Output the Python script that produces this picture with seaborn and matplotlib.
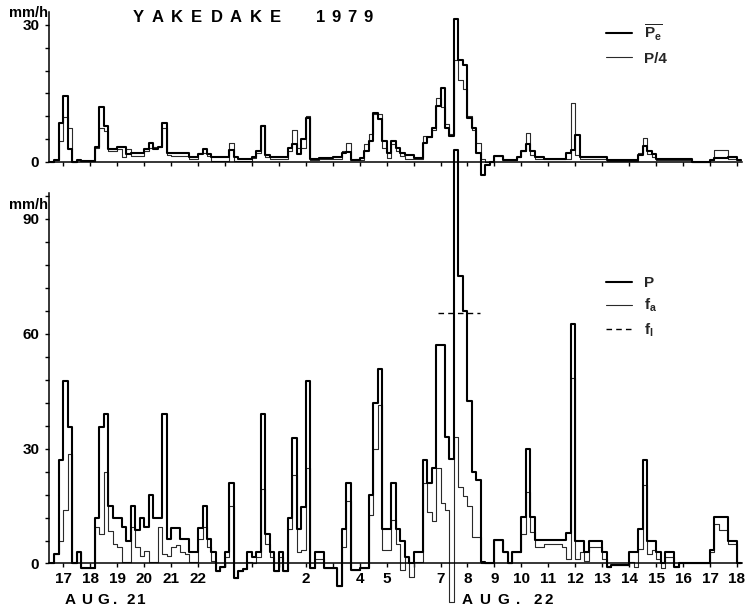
import numpy as np
import pandas as pd
import matplotlib
matplotlib.use("Agg")
import matplotlib.pyplot as plt
from matplotlib.lines import Line2D
import seaborn as sns

# Time axis: hours counted from 00:00, Aug. 21 1979; 10-minute steps
STEP_START = 16.5
STEP_HOURS = 1 / 6

# Effective rainfall (upper panel, thick)
pe = [
    0, 0.3, 8.4, 14.5, 2.8, 0,
    0.3, 0.2, 0.2, 0.2, 3.3, 11.9,
    7.9, 2.8, 2.8, 3.3, 3.3, 1.7,
    2, 2, 2, 2.8, 4, 2.8,
    3.3, 8.4, 2, 2, 2, 2,
    2, 1, 1, 1.7, 2.8, 1.7,
    1, 1, 1, 1, 2.6, 1,
    0.6, 0.6, 0.6, 1, 2.4, 7.9,
    1.5, 1, 1, 1, 1, 3,
    3.8, 1.6, 4.9, 9.6, 0.5, 0.5,
    0.8, 0.8, 0.8, 1, 1, 2,
    2.2, 0.3, 0.3, 0.8, 2.3, 4.5,
    10.7, 9.3, 4.5, 2, 4.5, 3.1,
    2, 1.5, 1.5, 0.9, 0.9, 4.2,
    5.4, 7.4, 12.2, 16.2, 7.4, 5.6,
    31.4, 22.4, 21.3, 9.6, 7.4, 2,
    -2.9, -0.7, 0, 1.2, 1.2, 0.3,
    0.3, 0.3, 1, 2.3, 3.8, 2.3,
    1.1, 1.1, 0.7, 0.7, 0.7, 0.7,
    0.7, 1.8, 2.5, 5.8, 1.1, 1.1,
    1.1, 1.1, 1.1, 1.1, 0.4, 0.4,
    0.4, 0.4, 0.4, 0.3, 0.3, 1.5,
    3.5, 2.3, 1.6, 0.6, 0.6, 0.6,
    0.6, 0.6, 0.6, 0.6, 0.6, 0,
    0, 0, 0, 0.4, 0.9, 0.9,
    0.9, 1.1, 1.1, 0.4,
]

# Rainfall divided by four (upper panel, thin)
p_quarter = [
    0, 0.3, 4.6, 9.7, 7.3, 0,
    0.3, 0.2, 0.2, 0.2, 3, 7.5,
    6.8, 2.4, 2.4, 2.8, 1, 2.8,
    1.3, 1.3, 1.3, 2.4, 3.1, 3.3,
    3.3, 7.5, 1.5, 1.3, 1.3, 1.3,
    1.3, 0.6, 0.6, 2, 2, 1.3,
    0.2, 0.2, 0.2, 0.2, 4.2, 0.2,
    0.2, 0.2, 0.2, 0.8, 2, 8,
    1, 0.6, 0.6, 0.6, 0.6, 2.4,
    6.9, 3.1, 3.1, 10, 0.3, 0.3,
    0.6, 0.6, 0.6, 0.7, 0.7, 2.3,
    4.2, 0.3, 0.5, 0.3, 3.8, 6,
    10.4, 10.4, 3.1, 0.9, 3.8, 2.3,
    1.2, 0.5, 0.5, 0.5, 0.5, 5.6,
    5.4, 7, 14, 12, 8.2, 6,
    22.4, 18, 16, 10, 7, 4,
    0.5, 0, 0, 1.2, 1.2, 0.3,
    0.3, 0.3, 1, 2.3, 6.4, 1.5,
    0.5, 0.5, 0.5, 0.5, 0.5, 0.5,
    0.5, 0.5, 12.8, 1.5, 0.7, 0.7,
    0.7, 0.7, 0.7, 0.7, 0.2, 0.2,
    0.2, 0.2, 0.2, 0.2, 0.2, 1.8,
    5.3, 1.6, 1.1, 0.4, 0.4, 0.4,
    0.4, 0.4, 0.4, 0.4, 0.4, 0,
    0, 0, 0, 0.4, 2.6, 2.6,
    2.6, 0.7, 0.7, 0.3,
]

# Rainfall intensity P (lower panel, thick)
p = [
    0, 2.6, 27, 47.6, 35.6, 0,
    2.9, -1.2, -1.2, -1.2, 12, 35.6,
    39, 15, 12, 12, 9.4, 5.9,
    15, 8.7, 12, 9.4, 18, 12,
    12, 39, 6.3, 9.2, 9.2, 6.3,
    6.3, 2.9, 2.9, 9.2, 15, 6.3,
    2.9, -1.9, -1, 2.9, 21, -3.7,
    -1.9, -1.5, 2.9, 1.6, 2.9, 39,
    7.6, 2.9, -1.9, 2.9, -1.9, 12,
    32.8, 9, 14.8, 47.7, -1.3, 2.9,
    2.9, -1.3, -1.3, -1.3, -6, 9,
    20.9, -1.7, -1.7, -1.3, -1.3, 18,
    42, 50.9, 9.1, 9.1, 20.9, 9.1,
    5.8, 1.7, 0, 3, 3, 27,
    21, 25, 57, 57, 33, 27.4,
    108, 75, 66, 42.5, 24, 21.7,
    0.3, 0, 0, 6.1, 6.1, 2.9,
    0, 3, 3, 12.2, 30, 12.2,
    6.1, 6.1, 6.1, 6.1, 6.1, 6.1,
    6.1, 8, 62.4, 5.9, 5.9, 3,
    5.9, 5.9, 5.9, 3, -0.9, -0.3,
    -0.3, -0.3, -0.3, 3, 3, 8.9,
    27, 5.9, 5.9, 3, 0, 3,
    3, -0.9, 0, 0, 0, 0,
    0, 0, 0, 3.5, 12.2, 12.2,
    12.2, 5.9, 5.9, 0,
]

# Actual infiltration f_a (lower panel, thin)
fa = [
    0, 2.6, 6, 14, 28.5, 0,
    2.9, -1.2, -1.2, -1.2, 9.6, 7.6,
    24, 8.5, 5.2, 4.2, 0.5, 0.5,
    9.4, 4.2, 2, 3.3, 0.5, 0.5,
    9.4, 2.6, 2, 4.2, 4.9, 2.9,
    2.6, 0.3, 0.3, 6.3, 9.4, 4.2,
    0.7, -1.9, -1, 1.6, 15, -3.7,
    -1.9, -1.5, 0.3, 0, 1.6, 19.4,
    5, 1.6, -1.9, 1.6, -1.9, 9.1,
    23.2, 3, 3.5, 25, -1.3, 1.3,
    1.3, -1.3, -1.3, -1.3, -6, 4.3,
    16.3, -1.7, -1.7, -1.3, -1.3, 12.6,
    30, 41.5, 3.5, 3.5, 11.3, 5.2,
    -1.7, 1.7, -3.5, 0.5, 0.5, 20.9,
    13.5, 11, 25, 15.7, 14, -10,
    33, 20, 17.6, 15, 7, 7,
    0, 0, 0, 6.1, 6.1, 2.9,
    0, 3, 3, 7.8, 18.7, 8.3,
    4.3, 4.3, 5.2, 5.2, 5.2, 5.2,
    4.3, 1.3, 48.3, 1.3, 3, 0.7,
    4.3, 4.3, 4.3, 1.3, -0.9, -0.3,
    -0.3, -0.3, -0.3, 0.5, -0.9, 3.9,
    20.4, 2.6, 3.5, 1.3, -1.3, 1.7,
    1.7, -0.9, 0, 0, 0, 0,
    0, 0, 0, 3, 10.4, 8.7,
    8.7, 5, 5, 0,
]

# Initial infiltration capacity f_I and the period it applies to
F1_LEVEL = 65.4
F1_START, F1_END = 30.9, 32.45

HOUR_TICKS = list(range(17, 43))
HOUR_LABELS = ["17", "18", "19", "20", "21", "22", "", "", "", "2", "", "4", "5", "",
               "7", "8", "9", "10", "11", "12", "13", "14", "15", "16", "17", "18"]

sns.set_style("ticks")
FONT = ["Liberation Sans", "DejaVu Sans"]
plt.rcParams["font.family"] = FONT
plt.rcParams["font.weight"] = "bold"
plt.rcParams["mathtext.fontset"] = "custom"
plt.rcParams["mathtext.rm"] = "Liberation Sans:bold"
plt.rcParams["mathtext.bf"] = "Liberation Sans:bold"
plt.rcParams["mathtext.it"] = "Liberation Sans:bold"


def step_frame(values):
    t = STEP_START + np.arange(len(values) + 1) * STEP_HOURS
    v = list(values) + [values[-1]]
    return pd.DataFrame({"time": t, "value": v})


W, H = 745, 609


def rect(left, top, right, bottom):
    return [left / W, 1 - bottom / H, (right - left) / W, (bottom - top) / H]


fig = plt.figure(figsize=(W / 100, H / 100), dpi=100)
ax_b = fig.add_axes(rect(49, 140, 742, 605))
ax_t = fig.add_axes(rect(49, 8, 742, 180))

XLIM = (16.469, 42.19)
THICK, THIN = 1.5, 0.8
INK, INK_THIN = "#000000", "#2a2a2a"

for ax in (ax_b, ax_t):
    ax.set_facecolor("none")
    ax.set_xlim(*XLIM)
    for side in ("top", "right"):
        ax.spines[side].set_visible(False)
    ax.spines["bottom"].set_position(("data", 0))
    for side in ("left", "bottom"):
        ax.spines[side].set_linewidth(1.1)
        ax.spines[side].set_color(INK)
    ax.set_xticks(HOUR_TICKS)
    ax.tick_params(direction="out", length=3, width=1, colors=INK, labelsize=11)

# ---- upper panel: effective rainfall and P/4 ----
sns.lineplot(data=step_frame(p_quarter), x="time", y="value", ax=ax_t,
             drawstyle="steps-post", color=INK_THIN, lw=THIN, estimator=None, sort=False)
sns.lineplot(data=step_frame(pe), x="time", y="value", ax=ax_t,
             drawstyle="steps-post", color=INK, lw=THICK, estimator=None, sort=False)
ax_t.set_ylim(-4.016, 33.73)
ax_t.spines["left"].set_bounds(0, 32.8)
ax_t.set_yticks(range(0, 31, 5))
ax_t.set_yticklabels(["0", "", "", "", "", "", "30"])
ax_t.set_xticklabels([])
ax_t.tick_params(axis="y", pad=4)
ax_t.set_xlabel("")
ax_t.set_ylabel("")

# ---- lower panel: rainfall, infiltration ----
sns.lineplot(data=step_frame(fa), x="time", y="value", ax=ax_b,
             drawstyle="steps-post", color=INK_THIN, lw=THIN, estimator=None, sort=False)
sns.lineplot(data=step_frame(p), x="time", y="value", ax=ax_b,
             drawstyle="steps-post", color=INK, lw=THICK, estimator=None, sort=False)
f1_frame = pd.DataFrame({"time": [F1_START, F1_END], "value": [F1_LEVEL, F1_LEVEL]})
sns.lineplot(data=f1_frame, x="time", y="value", ax=ax_b, color=INK, lw=1.0,
             linestyle=(0, (4, 3)), estimator=None, sort=False)
ax_b.set_ylim(-10.84, 110.57)
ax_b.spines["left"].set_bounds(0, 96.8)
y_ticks_b = list(range(0, 97, 6))
ax_b.set_yticks(y_ticks_b)
ax_b.set_yticklabels([str(v) if v % 30 == 0 else "" for v in y_ticks_b])
ax_b.set_xticklabels(HOUR_LABELS)
ax_b.tick_params(axis="y", pad=4)
ax_b.tick_params(axis="x", pad=3)
ax_b.set_xlabel("")
ax_b.set_ylabel("")

# ---- legends ----
leg_kw = dict(loc="upper left", bbox_transform=fig.transFigure, frameon=False,
              handlelength=1.7, handletextpad=0.8, borderpad=0, borderaxespad=0,
              prop={"family": FONT, "weight": "bold", "size": 11})
ax_t.legend(handles=[Line2D([], [], color=INK, lw=THICK, label=r"$\overline{\mathrm{P_e}}$"),
                     Line2D([], [], color=INK_THIN, lw=THIN, label="P/4")],
            bbox_to_anchor=(606 / W, 1 - 22 / H), labelspacing=0.6, **leg_kw)
ax_b.legend(handles=[Line2D([], [], color=INK, lw=THICK, label="P"),
                     Line2D([], [], color=INK_THIN, lw=THIN, label=r"f$_\mathrm{a}$"),
                     Line2D([], [], color=INK, lw=1.0, linestyle=(0, (4, 3)),
                            label=r"f$_\mathrm{I}$")],
            bbox_to_anchor=(606 / W, 1 - 276 / H), labelspacing=0.45, **leg_kw)

# ---- letter-spaced texts ----
txt = dict(family=FONT, weight="bold", color=INK, va="center", ha="center")


def spaced(centres, y, chars, size):
    for cx, ch in zip(centres, chars):
        fig.text(cx / W, 1 - y / H, ch, fontsize=size, **txt)


spaced([138 + 19.6 * i for i in range(8)], 18, "YAKEDAKE", 12)
spaced([321 + 15.5 * i for i in range(4)], 18, "1979", 12)
spaced([70, 87, 103, 115, 131, 141], 600, "AUG.21", 11)
spaced([467, 485, 503, 518, 537.5, 549], 600, "AUG.22", 11)
fig.text(48 / W, 1 - 13 / H, "mm/h", fontsize=10.5, family=FONT, weight="bold",
         color=INK, va="center", ha="right")
fig.text(48 / W, 1 - 205 / H, "mm/h", fontsize=10.5, family=FONT, weight="bold",
         color=INK, va="center", ha="right")

fig.savefig("out.png", dpi=100, facecolor="white")
